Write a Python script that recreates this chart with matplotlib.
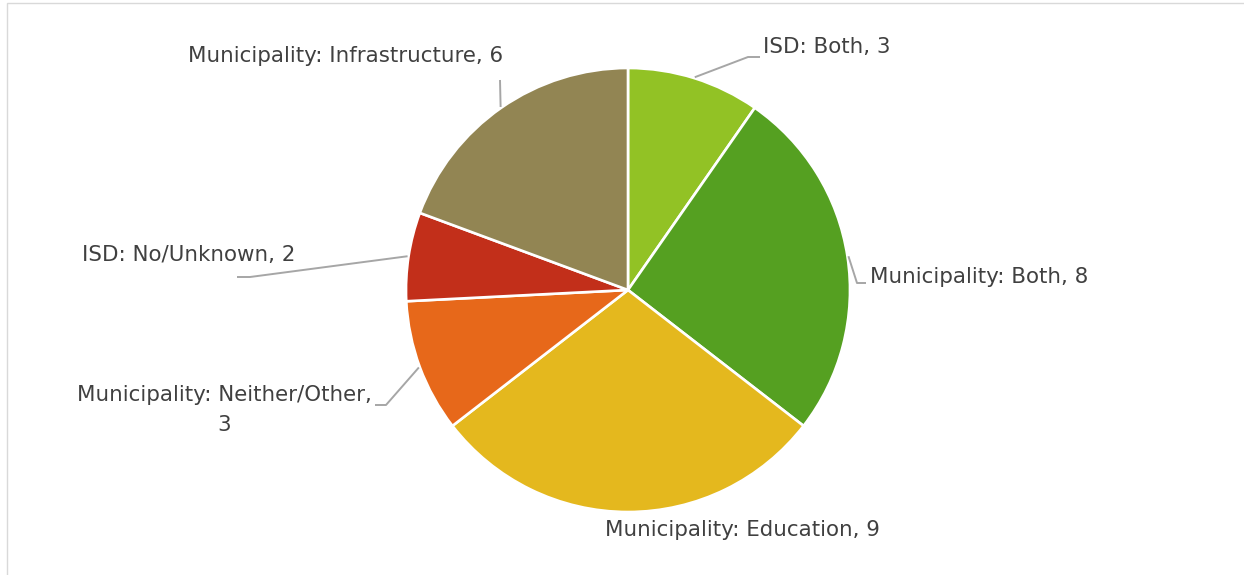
import numpy as np
import matplotlib
matplotlib.use("Agg")
import matplotlib.pyplot as plt
from matplotlib.patches import Rectangle

# Responses by category (pie slices, clockwise from 12 o'clock)
categories = [
    "ISD: Both",
    "Municipality: Both",
    "Municipality: Education",
    "Municipality: Neither/Other",
    "ISD: No/Unknown",
    "Municipality: Infrastructure",
]
counts = [3, 8, 9, 3, 2, 6]
colors = ["#92C225", "#55A021", "#E4B81E", "#E7681A", "#C22F1A", "#928553"]

W, H = 1244, 575
fig = plt.figure(figsize=(W / 100, H / 100), dpi=100)
ax = fig.add_axes([0, 0, 1, 1])


def Y(y):
    """Convert a top-down pixel row into the axes' bottom-up coordinate."""
    return H - y


cx, cy, r = 628, Y(290), 222

wedges, _ = ax.pie(
    counts,
    colors=colors,
    startangle=90,
    counterclock=False,
    radius=r,
    center=(cx, cy),
    wedgeprops=dict(edgecolor="white", linewidth=1.9),
    frame=True,
)
ax.set_xlim(0, W)
ax.set_ylim(0, H)
ax.set_aspect("equal")
ax.axis("off")

# chart-area border
ax.add_patch(Rectangle((6.5, Y(2.5) - 700), 1300, 700, fill=False,
                       edgecolor="#D9D9D9", linewidth=1.0, clip_on=False))

text_color = "#404040"
line_color = "#A6A6A6"
font = dict(family="DejaVu Sans", size=15.4, color=text_color)

# label placement: (text x, text y, ha, leader elbow points after the wedge edge)
layout = [
    (763, 47, "left", [(748, 57), (760, 57)]),
    (870, 277, "left", [(857, 283), (866, 283)]),
    (742, 530, "center", None),
    (224, 410, "center", [(386, 405), (375, 405)]),
    (82, 255, "left", [(250, 277), (237, 277)]),
    (346, 56, "center", [(500, 80)]),
]

for w, cat, n, (tx, ty, ha, elbow) in zip(wedges, categories, counts, layout):
    label = f"{cat}, {n}"
    if cat == "Municipality: Neither/Other":
        label = f"{cat},\n{n}"
    ax.text(tx, Y(ty), label, ha=ha, va="center", linespacing=1.57, **font)
    if elbow:
        mid = np.deg2rad((w.theta1 + w.theta2) / 2)
        ex = cx + (r + 1) * np.cos(mid)
        ey = cy + (r + 1) * np.sin(mid)
        xs = [ex] + [p[0] for p in elbow]
        ys = [ey] + [Y(p[1]) for p in elbow]
        ax.plot(xs, ys, color=line_color, linewidth=1.4, solid_capstyle="butt")

fig.savefig("out.png", dpi=100)
